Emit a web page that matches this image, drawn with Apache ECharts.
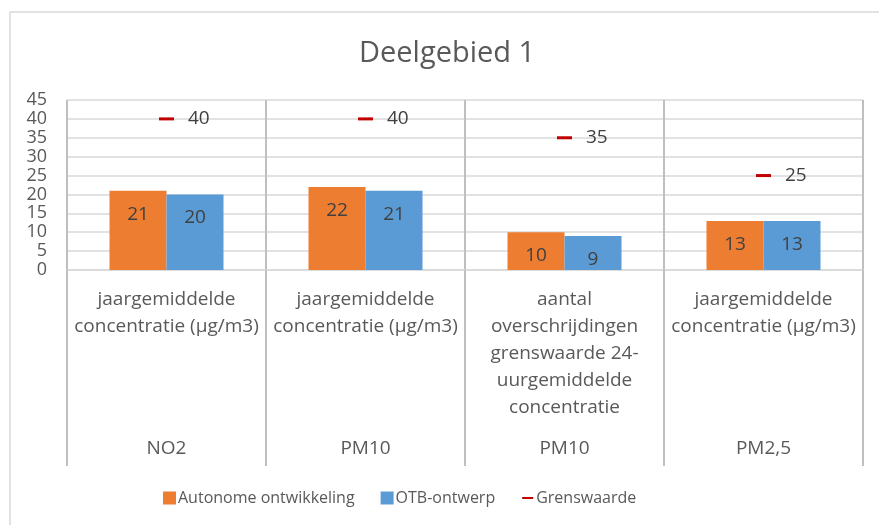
<!DOCTYPE html>
<html>
<head>
<meta charset="utf-8">
<script src="https://cdn.jsdelivr.net/npm/echarts@6/dist/echarts.min.js"></script>
<style>html,body{margin:0;padding:0;background:#fff}#c{width:879px;height:525px}</style>
</head>
<body>
<div id="c"></div>
<script>
var categories = ['jaargemiddelde\nconcentratie (µg/m3)', 'jaargemiddelde\nconcentratie (µg/m3)', 'aantal\noverschrijdingen\ngrenswaarde 24-\nuurgemiddelde\nconcentratie', 'jaargemiddelde\nconcentratie (µg/m3)'];
var groups = ['NO2', 'PM10', 'PM10', 'PM2,5'];
var autonoom = [21, 22, 10, 13];
var otb = [20, 21, 9, 13];
var grenswaarde = [40, 40, 35, 25];
var yTicks = { min: 0, max: 45, interval: 5 };

var FONT = '"Open Sans", sans-serif';
var TXT = '#595959';
var chart = echarts.init(document.getElementById('c'), null, { renderer: 'canvas' });
var lineIcon = 'path://M0,0L0.01,0L0.01,0.01Z M1,5.5L12,5.5L12,7.5L1,7.5Z M12.99,13L13,13L13,12.99Z';
chart.setOption({
  animation: false,
  textStyle: { fontFamily: FONT },
  graphic: [{ type: 'rect', shape: { x: 10, y: 12, width: 1000, height: 700 }, style: { fill: 'none', stroke: '#d9d9d9', lineWidth: 1.5 }, silent: true }],
  title: { text: 'Deelgebied 1', left: 354, top: 34, textStyle: { fontFamily: FONT, fontSize: 29, fontWeight: 'normal', color: TXT } },
  legend: {
    left: 163, top: 490, padding: 0, itemWidth: 13, itemHeight: 13, itemGap: 26,
    textStyle: { fontFamily: FONT, fontSize: 16, color: TXT, padding: [0, 0, 0, -3] },
    data: [{ name: 'Autonome ontwikkeling', icon: 'rect' }, { name: 'OTB-ontwerp', icon: 'rect' }, { name: 'Grenswaarde', icon: lineIcon, itemStyle: { color: '#C00000' } }]
  },
  grid: { left: 67, right: 16, top: 100, bottom: 255 },
  xAxis: [{
    type: 'category', data: categories, position: 'bottom',
    axisLine: { show: true, lineStyle: { color: '#d9d9d9', width: 1.5 } },
    axisTick: { show: true, interval: 0, length: 196, lineStyle: { color: '#bfbfbf', width: 2 } },
    splitLine: { show: true, interval: 0, lineStyle: { color: '#bfbfbf', width: 2 } },
    axisLabel: { interval: 0, margin: 16, fontFamily: FONT, fontSize: 19, color: TXT, lineHeight: 27, align: 'center', verticalAlign: 'top' }
  }, {
    type: 'category', data: groups, position: 'bottom', gridIndex: 0,
    axisLine: { show: false }, axisTick: { show: false }, splitLine: { show: false },
    axisLabel: { interval: 0, margin: 169, fontFamily: FONT, fontSize: 19, color: TXT, verticalAlign: 'top' }
  }],
  yAxis: {
    type: 'value', min: yTicks.min, max: yTicks.max, interval: yTicks.interval,
    axisLine: { show: false }, axisTick: { show: false },
    splitLine: { lineStyle: { color: '#d9d9d9', width: 1.5 } },
    axisLabel: { margin: 20, fontFamily: FONT, fontSize: 18, color: TXT }
  },
  series: [{
    name: 'Autonome ontwikkeling', type: 'bar', data: autonoom, barWidth: 57, barGap: '0%',
    itemStyle: { color: '#ED7D31' },
    label: { show: true, position: 'insideTop', distance: 14, fontFamily: FONT, fontSize: 19, color: '#404040' }
  }, {
    name: 'OTB-ontwerp', type: 'bar', data: otb, barWidth: 57,
    itemStyle: { color: '#5B9BD5' },
    label: { show: true, position: 'insideTop', distance: 14, fontFamily: FONT, fontSize: 19, color: '#404040' }
  }, {
    name: 'Grenswaarde', type: 'line', data: grenswaarde,
    symbol: 'rect', symbolSize: [15, 3], showSymbol: true,
    lineStyle: { opacity: 0, width: 0 },
    itemStyle: { color: '#C00000' },
    label: { show: true, position: 'right', distance: 14, fontFamily: FONT, fontSize: 19, color: '#404040' }
  }]
});
</script>
</body>
</html>
